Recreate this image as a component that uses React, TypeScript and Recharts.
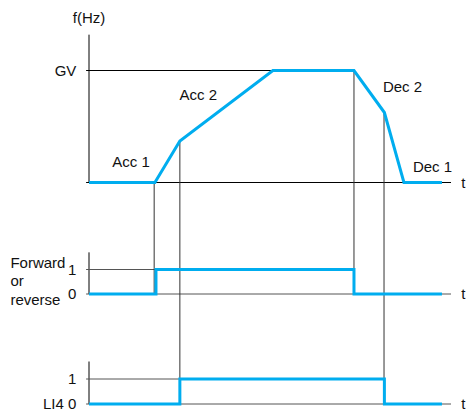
import React from 'react';
import { ComposedChart, Line, XAxis, YAxis, ReferenceLine, ReferenceDot } from 'recharts';

// time is in % of the t axis, frequency in % of GV
const freqTime = [0, 18.2, 25.1, 50.8, 73.2, 81.6, 87.0, 97.5];
const freqValue = [0, 0, 37, 100, 100, 62.5, 0, 0];

// logic inputs (0 / 1)
const fwdTime = [0, 18.5, 73.2, 97.5];
const fwdValue = [0, 1, 0, 0];
const li4Time = [0, 25.1, 81.6, 97.5];
const li4Value = [0, 1, 0, 0];

// switching instants, the frequency they hit and the input they drop to
const markTime = [18.0, 25.1, 73.2, 81.5];
const markFreq = [0, 37, 100, 62.5];
const markPanel = ['fwd', 'li4', 'fwd', 'li4'];

const rampNames = ['Acc 1', 'Acc 2', 'Dec 2', 'Dec 1'];
const rampNameTime = [11.6, 30.2, 86.6, 94.9];
const rampNameFreq = [13.4, 74.1, 80.4, 9.8];

const W = 466;
const H = 412;
const BLUE = '#00adef';
const FONT = '"Liberation Sans", Arial, sans-serif';

// where each panel's zero sits and how many px one unit takes
const panels: Record<string, { zero: number; unit: number }> = {
  f: { zero: 182.5, unit: 1.12 },
  fwd: { zero: 294, unit: 24.5 },
  li4: { zero: 404, unit: 25 },
};
const dom = (k: string) => [(panels[k].zero - H) / panels[k].unit, panels[k].zero / panels[k].unit];
const cross = (from: string, v: number, to: string) =>
  (panels[to].zero - (panels[from].zero - v * panels[from].unit)) / panels[to].unit;

const rows = (ts: number[], vs: number[]) => ts.map((t, i) => ({ t, v: vs[i] }));

const Txt = (props: any) => {
  const { viewBox, text, anchor = 'middle', dy = 0 } = props;
  if (!viewBox) return null;
  return (
    <text x={viewBox.x} y={viewBox.y + dy} textAnchor={anchor} fontFamily={FONT} fontSize={15} fill="#111">
      {text}
    </text>
  );
};

const note = (key: string, x: number, y: number, axis: string, text: string, anchor = 'middle', dy = 0) => (
  <ReferenceDot
    key={key}
    x={x}
    y={y}
    yAxisId={axis}
    r={0}
    fill="none"
    stroke="none"
    ifOverflow="visible"
    label={<Txt text={text} anchor={anchor} dy={dy} />}
  />
);

const seg = (key: string, axis: string, x1: number, y1: number, x2: number, y2: number, color = '#000') => (
  <ReferenceLine
    key={key}
    yAxisId={axis}
    segment={[{ x: x1, y: y1 }, { x: x2, y: y2 }]}
    stroke={color}
    strokeWidth={1}
    ifOverflow="visible"
  />
);

export default function App() {
  return (
    <div style={{ position: 'absolute', left: 0, top: 0, width: W, height: H, background: '#fff' }}>
      <ComposedChart width={W} height={H} margin={{ top: 0, right: 15, bottom: 0, left: 89 }}>
        <XAxis type="number" dataKey="t" domain={[0, 100]} hide allowDataOverflow />
        <YAxis yAxisId="f" type="number" domain={dom('f')} hide allowDataOverflow />
        <YAxis yAxisId="fwd" type="number" domain={dom('fwd')} hide allowDataOverflow />
        <YAxis yAxisId="li4" type="number" domain={dom('li4')} hide allowDataOverflow />

        {/* axes and level lines */}
        {seg('f-axis', 'f', 0, 0, 0, 132)}
        {seg('f-base', 'f', -0.8, 0, 100, 0)}
        {seg('gv', 'f', -0.8, 100, freqTime[4], 100)}
        {seg('fwd-axis', 'fwd', 0, 0, 0, 1.7)}
        {seg('fwd-0', 'fwd', -0.8, 0, 100, 0, '#555')}
        {seg('fwd-1', 'fwd', -0.8, 1, fwdTime[2], 1, '#555')}
        {seg('li4-axis', 'li4', 0, 0, 0, 1.7)}
        {seg('li4-0', 'li4', -0.8, 0, 100, 0, '#555')}
        {seg('li4-1', 'li4', -0.8, 1, li4Time[2], 1, '#555')}

        {/* switching instants dropped down to the inputs */}
        {markTime.map((t, i) =>
          seg('mark' + i, markPanel[i], t, cross('f', markFreq[i], markPanel[i]), t, 0, '#333')
        )}

        <Line data={rows(freqTime, freqValue)} dataKey="v" yAxisId="f" type="linear" stroke={BLUE} strokeWidth={3} dot={false} isAnimationActive={false} />
        <Line data={rows(fwdTime, fwdValue)} dataKey="v" yAxisId="fwd" type="stepAfter" stroke={BLUE} strokeWidth={3} dot={false} isAnimationActive={false} />
        <Line data={rows(li4Time, li4Value)} dataKey="v" yAxisId="li4" type="stepAfter" stroke={BLUE} strokeWidth={3} dot={false} isAnimationActive={false} />

        {/* texts */}
        {note('fhz', 0, 142, 'f', 'f(Hz)')}
        {note('gv-l', -3.5, 100, 'f', 'GV', 'end', 5)}
        {rampNames.map((n, i) => note('ramp' + i, rampNameTime[i], rampNameFreq[i], 'f', n))}
        {note('t-f', 102.8, 0, 'f', 't', 'start', 5)}
        {note('t-fwd', 102.8, 0, 'fwd', 't', 'start', 5)}
        {note('t-li4', 102.8, 0, 'li4', 't', 'start', 5)}
        {note('fwd-1l', -3.5, 1, 'fwd', '1', 'end', 5)}
        {note('fwd-0l', -3.5, 0, 'fwd', '0', 'end', 5)}
        {note('fw1', -21.7, 1.08, 'fwd', 'Forward', 'start')}
        {note('fw2', -21.7, 0.33, 'fwd', 'or', 'start')}
        {note('fw3', -21.7, -0.43, 'fwd', 'reverse', 'start')}
        {note('li4-1l', -3.5, 1, 'li4', '1', 'end', 5)}
        {note('li4-0l', -3.5, 0, 'li4', 'LI4 0', 'end', 5)}
      </ComposedChart>
    </div>
  );
}
